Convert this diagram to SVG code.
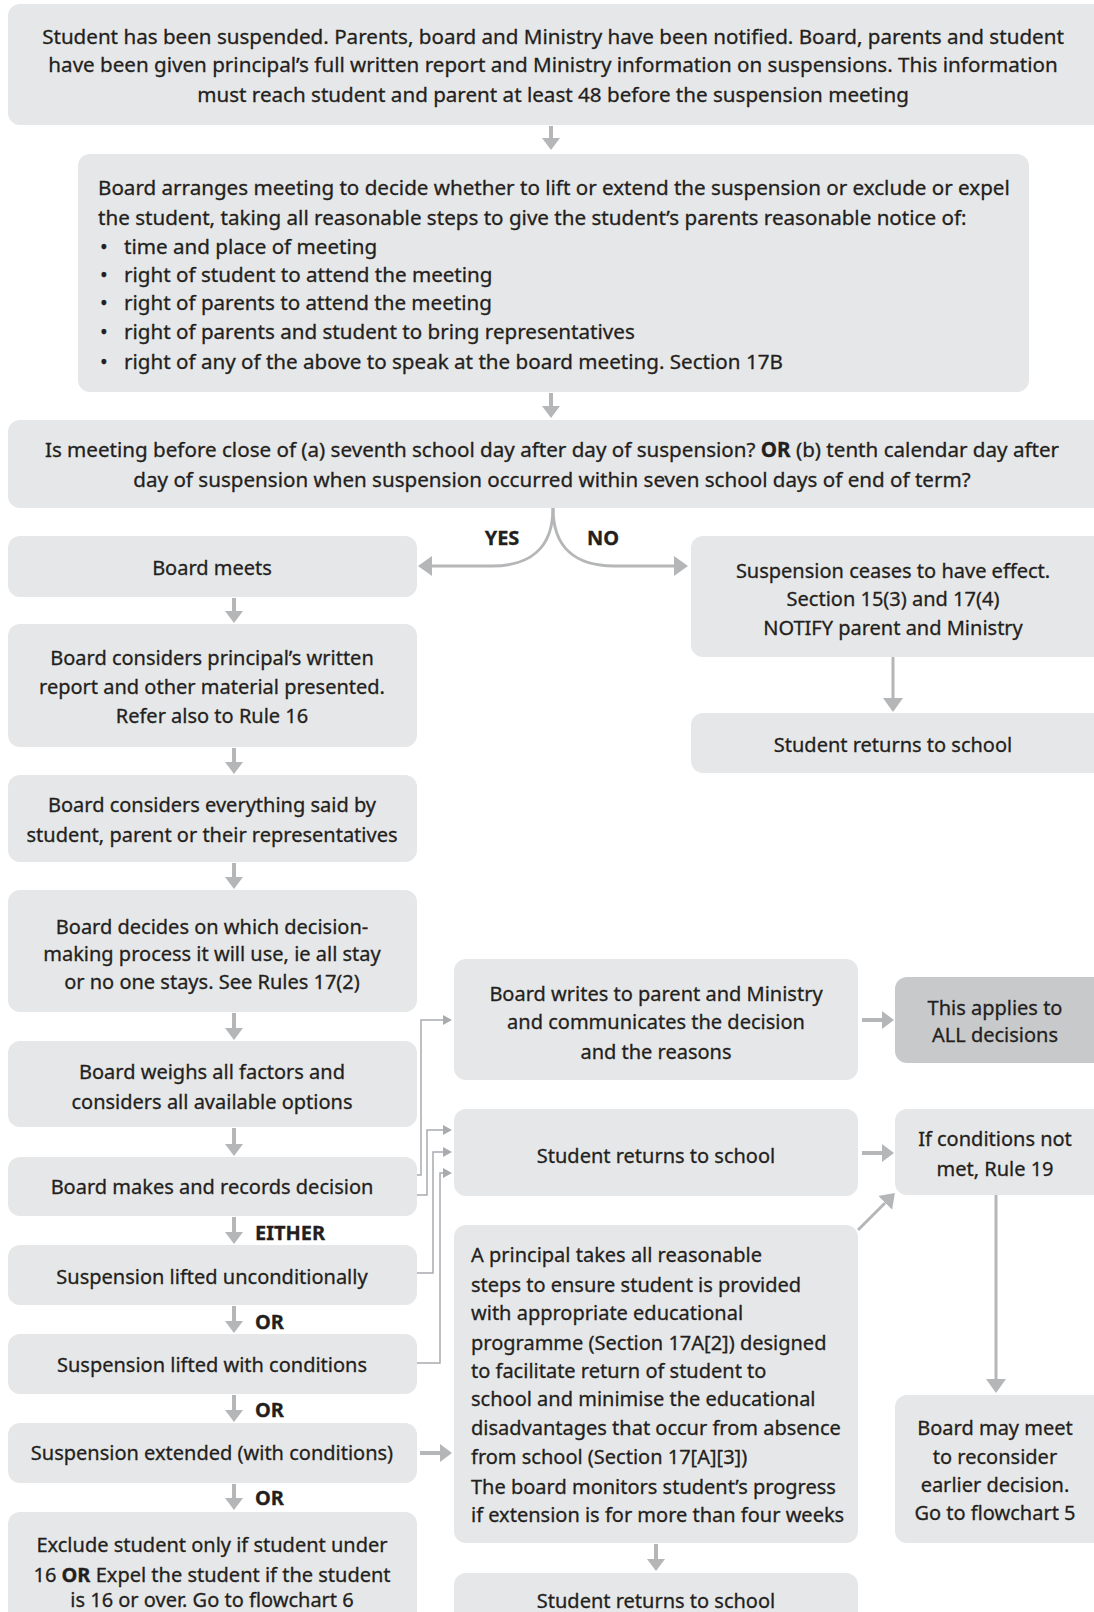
<svg xmlns="http://www.w3.org/2000/svg" width="1094" height="1612" viewBox="0 0 1094 1612">
  <style>
    .box { fill: #e6e7e8; }
    .dark { fill: #c8c9cb; }
    text { font-family: "Noto Sans", "Open Sans", "Liberation Sans", sans-serif; font-size: 20px; fill: #231f20; stroke: #231f20; stroke-width: 0.3px; }
    .w { font-size: 20.6px; }
    .c { text-anchor: middle; }
    .b { font-weight: bold; }
    .thick { stroke: #b5b6b8; stroke-width: 4; fill: none; }
    .mid { stroke: #b5b6b8; stroke-width: 3; fill: none; }
    .thin { stroke: #a9abae; stroke-width: 1.5; fill: none; }
  </style>
  <defs>
    <marker id="head" markerUnits="userSpaceOnUse" viewBox="0 0 12 18" markerWidth="12" markerHeight="18" refX="0" refY="9" orient="auto">
      <path d="M0,0 L12,9 L0,18 z" fill="#b5b6b8"/>
    </marker>
    <marker id="headL" markerUnits="userSpaceOnUse" viewBox="0 0 14 20" markerWidth="14" markerHeight="20" refX="0" refY="10" orient="auto">
      <path d="M0,0 L14,10 L0,20 z" fill="#b5b6b8"/>
    </marker>
    <marker id="headS" markerUnits="userSpaceOnUse" viewBox="0 0 9 10" markerWidth="9" markerHeight="10" refX="0" refY="5" orient="auto">
      <path d="M0,0 L9,5 L0,10 z" fill="#a9abae"/>
    </marker>
  </defs>

  <!-- connectors -->
  <g id="connectors">
    <line class="thick" x1="551" y1="126" x2="551" y2="138" marker-end="url(#head)"/>
    <line class="thick" x1="551" y1="393" x2="551" y2="406" marker-end="url(#head)"/>
    <!-- yes / no split -->
    <path class="mid" d="M553,508 C553,548 530,566 492,566 L432,566" marker-end="url(#headL)"/>
    <path class="mid" d="M553,508 C553,548 576,566 614,566 L674,566" marker-end="url(#headL)"/>
    <!-- left column -->
    <line class="thick" x1="234" y1="598" x2="234" y2="611" marker-end="url(#head)"/>
    <line class="thick" x1="234" y1="748" x2="234" y2="762" marker-end="url(#head)"/>
    <line class="thick" x1="234" y1="863" x2="234" y2="877" marker-end="url(#head)"/>
    <line class="thick" x1="234" y1="1013" x2="234" y2="1028" marker-end="url(#head)"/>
    <line class="thick" x1="234" y1="1128" x2="234" y2="1144" marker-end="url(#head)"/>
    <line class="thick" x1="234" y1="1217" x2="234" y2="1232" marker-end="url(#head)"/>
    <line class="thick" x1="234" y1="1306" x2="234" y2="1321" marker-end="url(#head)"/>
    <line class="thick" x1="234" y1="1395" x2="234" y2="1410" marker-end="url(#head)"/>
    <line class="thick" x1="234" y1="1484" x2="234" y2="1498" marker-end="url(#head)"/>
    <!-- right column -->
    <line class="mid" x1="893" y1="657" x2="893" y2="698" marker-end="url(#headL)"/>
    <line class="mid" x1="996" y1="1195" x2="996" y2="1379" marker-end="url(#headL)"/>
    <!-- horizontal -->
    <line class="thick" x1="862" y1="1020" x2="882" y2="1020" marker-end="url(#head)"/>
    <line class="thick" x1="862" y1="1153" x2="882" y2="1153" marker-end="url(#head)"/>
    <line class="thick" x1="420" y1="1453" x2="440" y2="1453" marker-end="url(#head)"/>
    <line class="mid" x1="858" y1="1230" x2="885" y2="1203" marker-end="url(#headL)"/>
    <line class="thick" x1="656" y1="1544" x2="656" y2="1559" marker-end="url(#head)"/>
    <!-- decision branches -->
    <path class="thin" d="M417,1175 H421 V1020 H443" marker-end="url(#headS)"/>
    <path class="thin" d="M417,1195 H427 V1130 H443" marker-end="url(#headS)"/>
    <path class="thin" d="M417,1273 H433 V1152 H443" marker-end="url(#headS)"/>
    <path class="thin" d="M417,1363 H440 V1173 H443" marker-end="url(#headS)"/>
  </g>

  <!-- labels on connectors -->
  <g id="connector-labels">
    <text class="b c" x="502" y="545">YES</text>
    <text class="b c" x="603" y="545">NO</text>
    <text class="b" x="255" y="1240">EITHER</text>
    <text class="b" x="255" y="1329">OR</text>
    <text class="b" x="255" y="1417">OR</text>
    <text class="b" x="255" y="1505">OR</text>
  </g>

  <g id="n-suspended">
    <rect class="box" x="8" y="4" width="1100" height="121" rx="12"/>
    <text class="c w" x="553" y="44">Student has been suspended. Parents, board and Ministry have been notified. Board, parents and student</text>
    <text class="c w" x="553" y="72">have been given principal’s full written report and Ministry information on suspensions. This information</text>
    <text class="c w" x="553" y="102">must reach student and parent at least 48 before the suspension meeting</text>
  </g>

  <g id="n-arranges">
    <rect class="box" x="78" y="154" width="951" height="238" rx="12"/>
    <text class="w" x="98" y="195">Board arranges meeting to decide whether to lift or extend the suspension or exclude or expel</text>
    <text class="w" x="98" y="225">the student, taking all reasonable steps to give the student’s parents reasonable notice of:</text>
    <text class="w" x="100" y="254">•</text><text class="w" x="124" y="254">time and place of meeting</text>
    <text class="w" x="100" y="282">•</text><text class="w" x="124" y="282">right of student to attend the meeting</text>
    <text class="w" x="100" y="310">•</text><text class="w" x="124" y="310">right of parents to attend the meeting</text>
    <text class="w" x="100" y="339">•</text><text class="w" x="124" y="339">right of parents and student to bring representatives</text>
    <text class="w" x="100" y="369">•</text><text class="w" x="124" y="369">right of any of the above to speak at the board meeting. Section 17B</text>
  </g>

  <g id="n-question">
    <rect class="box" x="8" y="420" width="1100" height="88" rx="12"/>
    <text class="c w" x="552" y="457">Is meeting before close of (a) seventh school day after day of suspension? <tspan class="b">OR</tspan> (b) tenth calendar day after</text>
    <text class="c w" x="552" y="487">day of suspension when suspension occurred within seven school days of end of term?</text>
  </g>

  <g id="n-board-meets">
    <rect class="box" x="8" y="536" width="409" height="61" rx="12"/>
    <text class="c" x="212" y="575">Board meets</text>
  </g>

  <g id="n-ceases">
    <rect class="box" x="691" y="536" width="420" height="121" rx="12"/>
    <text class="c" x="893" y="578">Suspension ceases to have effect.</text>
    <text class="c" x="893" y="606">Section 15(3) and 17(4)</text>
    <text class="c" x="893" y="635">NOTIFY parent and Ministry</text>
  </g>

  <g id="n-returns-a">
    <rect class="box" x="691" y="713" width="420" height="60" rx="12"/>
    <text class="c" x="893" y="752">Student returns to school</text>
  </g>

  <g id="n-report">
    <rect class="box" x="8" y="624" width="409" height="123" rx="12"/>
    <text class="c" x="212" y="665">Board considers principal’s written</text>
    <text class="c" x="212" y="694">report and other material presented.</text>
    <text class="c" x="212" y="723">Refer also to Rule 16</text>
  </g>

  <g id="n-said">
    <rect class="box" x="8" y="775" width="409" height="87" rx="12"/>
    <text class="c" x="212" y="812">Board considers everything said by</text>
    <text class="c" x="212" y="842">student, parent or their representatives</text>
  </g>

  <g id="n-process">
    <rect class="box" x="8" y="890" width="409" height="122" rx="12"/>
    <text class="c" x="212" y="934">Board decides on which decision-</text>
    <text class="c" x="212" y="961">making process it will use, ie all stay</text>
    <text class="c" x="212" y="989">or no one stays. See Rules 17(2)</text>
  </g>

  <g id="n-weighs">
    <rect class="box" x="8" y="1041" width="409" height="86" rx="12"/>
    <text class="c" x="212" y="1079">Board weighs all factors and</text>
    <text class="c" x="212" y="1109">considers all available options</text>
  </g>

  <g id="n-records">
    <rect class="box" x="8" y="1157" width="409" height="59" rx="12"/>
    <text class="c" x="212" y="1194">Board makes and records decision</text>
  </g>

  <g id="n-lifted">
    <rect class="box" x="8" y="1245" width="409" height="60" rx="12"/>
    <text class="c" x="212" y="1284">Suspension lifted unconditionally</text>
  </g>

  <g id="n-lifted-cond">
    <rect class="box" x="8" y="1334" width="409" height="60" rx="12"/>
    <text class="c" x="212" y="1372">Suspension lifted with conditions</text>
  </g>

  <g id="n-extended">
    <rect class="box" x="8" y="1423" width="409" height="60" rx="12"/>
    <text class="c" x="212" y="1460">Suspension extended (with conditions)</text>
  </g>

  <g id="n-exclude">
    <rect class="box" x="8" y="1512" width="409" height="130" rx="12"/>
    <text class="c" x="212" y="1552">Exclude student only if student under</text>
    <text class="c" x="212" y="1582">16 <tspan class="b">OR</tspan> Expel the student if the student</text>
    <text class="c" x="212" y="1607">is 16 or over. Go to flowchart 6</text>
  </g>

  <g id="n-writes">
    <rect class="box" x="454" y="959" width="404" height="121" rx="12"/>
    <text class="c" x="656" y="1001">Board writes to parent and Ministry</text>
    <text class="c" x="656" y="1029">and communicates the decision</text>
    <text class="c" x="656" y="1059">and the reasons</text>
  </g>

  <g id="n-all">
    <rect class="dark" x="895" y="977" width="215" height="86" rx="12"/>
    <text class="c" x="995" y="1015">This applies to</text>
    <text class="c" x="995" y="1042">ALL decisions</text>
  </g>

  <g id="n-returns-b">
    <rect class="box" x="454" y="1109" width="404" height="87" rx="12"/>
    <text class="c" x="656" y="1163">Student returns to school</text>
  </g>

  <g id="n-conditions">
    <rect class="box" x="895" y="1109" width="215" height="86" rx="12"/>
    <text class="c" x="995" y="1146">If conditions not</text>
    <text class="c" x="995" y="1176">met, Rule 19</text>
  </g>

  <g id="n-programme">
    <rect class="box" x="454" y="1225" width="404" height="318" rx="12"/>
    <text x="471" y="1262">A principal takes all reasonable</text>
    <text x="471" y="1292">steps to ensure student is provided</text>
    <text x="471" y="1320">with appropriate educational</text>
    <text x="471" y="1350">programme (Section 17A[2]) designed</text>
    <text x="471" y="1378">to facilitate return of student to</text>
    <text x="471" y="1406">school and minimise the educational</text>
    <text x="471" y="1435">disadvantages that occur from absence</text>
    <text x="471" y="1464">from school (Section 17[A][3])</text>
    <text x="471" y="1494">The board monitors student’s progress</text>
    <text x="471" y="1522">if extension is for more than four weeks</text>
  </g>

  <g id="n-returns-c">
    <rect class="box" x="454" y="1573" width="404" height="70" rx="12"/>
    <text class="c" x="656" y="1608">Student returns to school</text>
  </g>

  <g id="n-reconsider">
    <rect class="box" x="895" y="1395" width="215" height="148" rx="12"/>
    <text class="c" x="995" y="1435">Board may meet</text>
    <text class="c" x="995" y="1464">to reconsider</text>
    <text class="c" x="995" y="1492">earlier decision.</text>
    <text class="c" x="995" y="1520">Go to flowchart 5</text>
  </g>
</svg>
